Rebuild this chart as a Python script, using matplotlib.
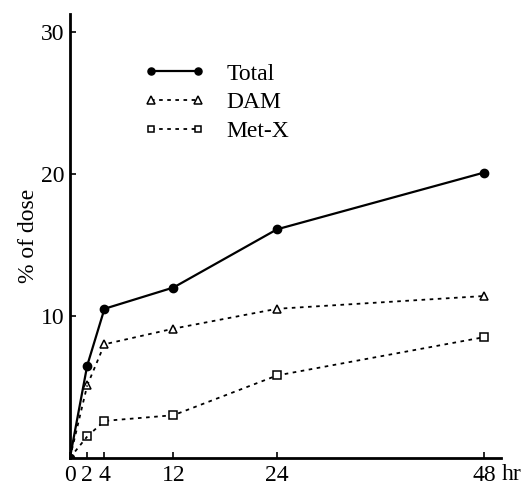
import matplotlib.pyplot as plt

# data
hours = [0, 2, 4, 12, 24, 48]
total = [0, 6.5, 10.5, 12.0, 16.1, 20.1]
dam = [0, 5.1, 8.0, 9.1, 10.5, 11.4]
metx = [0, 1.5, 2.6, 3.0, 5.8, 8.5]

plt.rcParams['font.family'] = ['Liberation Serif', 'DejaVu Serif']

fig = plt.figure(figsize=(5.26, 4.87), dpi=100)
ax = fig.add_axes([0.133, 0.06, 0.82, 0.912])

ax.plot(hours, total, '-', color='black', lw=1.6, marker='o', ms=6,
        label='Total')
ax.plot(hours[1:], dam[1:], color='black', lw=1.3, marker='^', ms=6,
        mfc='white', mew=1.1, dashes=(2, 2.5), label='DAM')
ax.plot(hours[:2], dam[:2], color='black', lw=1.3, dashes=(2, 2.5))
ax.plot(hours[1:], metx[1:], color='black', lw=1.3, marker='s', ms=5.5,
        mfc='white', mew=1.1, dashes=(2, 2.5), label='Met-X')
ax.plot(hours[:2], metx[:2], color='black', lw=1.3, dashes=(2, 2.5))

ax.set_xlim(0, 50)
ax.set_ylim(0, 31.3)
ax.set_xticks([0, 2, 4, 12, 24, 48])
ax.set_xticklabels(['0', '2', '4', '12', '24', '48'])
ax.set_yticks([10, 20, 30])
ax.tick_params(direction='in', length=4, width=1.2, labelsize=17, pad=4)
ax.tick_params(axis='x', pad=5)

for s in ['top', 'right']:
    ax.spines[s].set_visible(False)
for s in ['left', 'bottom']:
    ax.spines[s].set_linewidth(2)

ax.set_ylabel('% of dose', fontsize=17)
ax.yaxis.set_label_coords(-0.072, 0.5)
ax.text(1.0, -0.014, 'hr', transform=ax.transAxes, fontsize=17,
        ha='left', va='top')

ax.legend(loc='upper left', bbox_to_anchor=(0.15, 0.91), frameon=False,
          numpoints=2, handlelength=2.6, fontsize=17, labelspacing=0.3,
          handletextpad=0.9, borderaxespad=0, markerscale=0.85)

fig.savefig('out.png', dpi=100)
